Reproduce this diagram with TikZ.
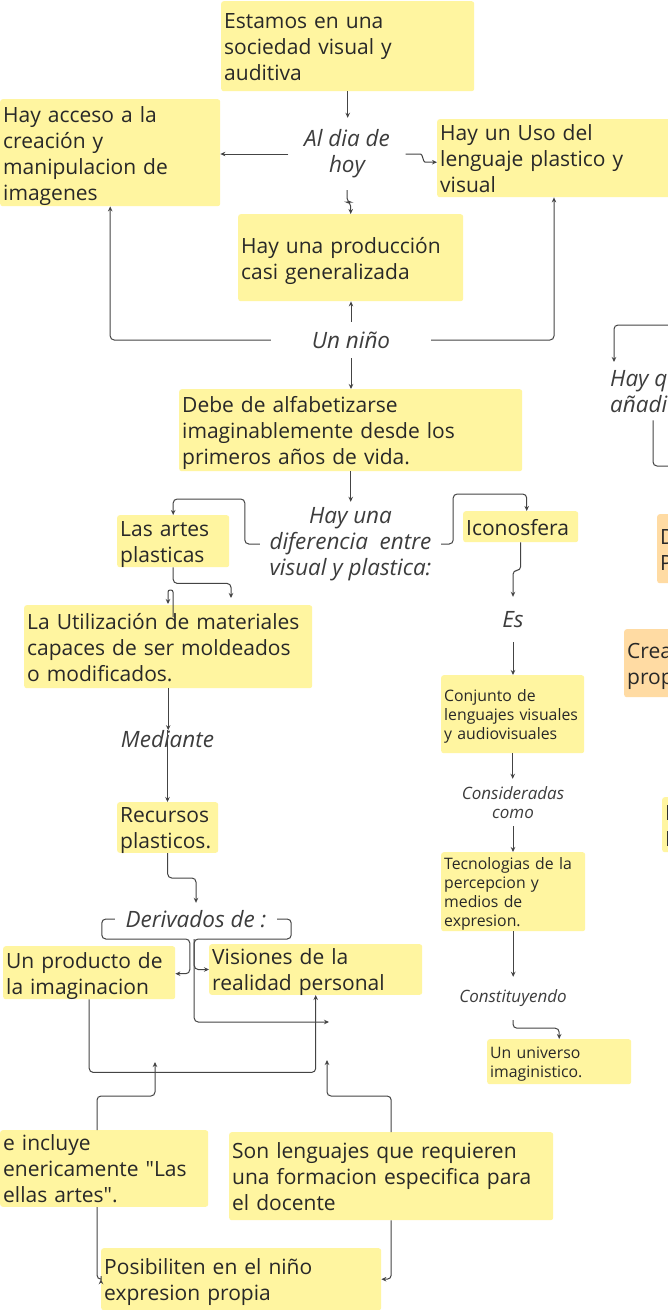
\documentclass[tikz,border=0pt]{standalone}
\usepackage{fontspec}
\setmainfont{Open Sans}
\usetikzlibrary{arrows.meta,calc}
\definecolor{notey}{RGB}{255,245,160}
\definecolor{noteo}{RGB}{255,219,163}
\definecolor{ink}{RGB}{40,40,40}
\definecolor{wirec}{RGB}{68,68,68}
\newcommand\notefont{\fontsize{21}{26}\selectfont}
\newcommand\smallnote{\fontsize{15.8}{19}\selectfont}
\newcommand\tagfont{\itshape\fontsize{22.5}{26}\selectfont}
\newcommand\smalltag{\itshape\fontsize{17}{19}\selectfont}
\tikzset{
  note/.style={fill=notey, rounded corners=2.5pt, anchor=north west, align=left,
    inner xsep=3pt, inner ysep=0pt, text=ink, font=\notefont},
  % width, height, lines
  size/.code n args={3}{\pgfmathsetmacro\notew{#1-6}%
    \pgfmathsetmacro\noted{26*(#3-1)+4}%
    \pgfkeysalso{minimum width=#1pt, minimum height=#2pt, text width=\notew pt,
      text height=20.6pt, text depth=\noted pt}},
  ssize/.code n args={3}{\pgfmathsetmacro\notew{#1-6}%
    \pgfmathsetmacro\noted{19*(#3-1)+3}%
    \pgfkeysalso{minimum width=#1pt, minimum height=#2pt, text width=\notew pt,
      text height=15.2pt, text depth=\noted pt, font=\smallnote}},
  tag/.style={inner sep=0pt, align=center, text=ink!90, font=\tagfont},
  wire/.style={draw=wirec, line width=1pt, rounded corners=4pt,
    -{Stealth[length=5pt,width=4.5pt]}},
}

\begin{document}
\begin{tikzpicture}[x=1pt,y=-1pt]
	%%%%% FRAME %%%%%
	\useasboundingbox (0,0) rectangle (668,1310);
	\fill[white] (0,0) rectangle (668,1310);
	\clip (0,0) rectangle (668,1310);
	
	%%%%% NOTES %%%%%
	\node[note, size={253}{90}{3}] (estamos) at (221,1) {Estamos en una\\sociedad visual y\\auditiva};
	\node[note, size={220}{107}{4}] (acceso) at (0,99) {Hay acceso a la\\creación y\\manipulacion de\\imagenes};
	\node[note, size={260}{78}{3}] (uso) at (437,119) {Hay un Uso del\\lenguaje plastico y\\visual};
	\node[note, size={225}{87}{2}] (produccion) at (238,214) {Hay una producción\\casi generalizada};
	\node[note, size={343}{82}{3}] (alfab) at (179,389) {Debe de alfabetizarse\\imaginablemente desde los\\primeros años de vida.};
	\node[note, size={112}{52}{2}] (artes) at (117,515) {Las artes\\plasticas};
	\node[note, size={115}{31}{1}] (icono) at (463,511) {Iconosfera};
	\node[note, size={288}{83}{3}] (utiliz) at (24,605) {La Utilización de materiales\\capaces de ser moldeados\\o modificados.};
	\node[note, size={101}{50}{2}] (recursos) at (117,802) {Recursos\\plasticos.};
	\node[note, ssize={143}{78}{3}] (conjunto) at (441,675) {Conjunto de\\lenguajes visuales\\y audiovisuales};
	\node[note, ssize={144}{79}{4}] (tecno) at (441,852) {Tecnologias de la\\percepcion y\\medios de\\expresion.};
	\node[note, ssize={144}{45}{2}] (universo) at (487,1039) {Un universo\\imaginistico.};
	\node[note, size={172}{53}{2}] (producto) at (3,946) {Un producto de\\la imaginacion};
	\node[note, size={213}{50}{2}] (visiones) at (209,944) {Visiones de la\\realidad personal};
	\node[note, size={208}{73}{3}, inner xsep=1pt] (incluye) at (0,1130) {e incluye\\enericamente \textquotedbl Las\\ellas artes\textquotedbl.};
	\node[note, size={324}{88}{3}] (lenguajes) at (229,1132) {Son lenguajes que requieren\\una formacion especifica para\\el docente};
	\node[note, size={280}{62}{2}] (posib) at (101,1248) {Posibiliten en el niño\\expresion propia};
	\node[note, fill=noteo, size={30}{69}{2}] (dp) at (657,514) {D\\P};
	\node[note, fill=noteo, size={60}{68}{2}] (crea) at (624,629) {Crea\\prop};
	\node[note, size={30}{55}{2}] (nl) at (662,797) {N\\I};
	
	%%%%% LINK WORDS %%%%%
	\node[tag, minimum width=117, minimum height=72] (aldia) at (347,154) {Al dia de\\hoy};
	\node[tag, minimum width=160, minimum height=36] (nino) at (351,340) {Un niño};
	\node[tag, minimum width=181, minimum height=84] (dif) at (350.5,544) {Hay una\\diferencia\ \ entre\\visual y plastica:};
	\node[tag, minimum width=30, minimum height=45] (es) at (513,619.5) {Es};
	\node[tag, font=\smalltag, minimum width=30, minimum height=47] (consid) at (513,802.5) {Consideradas\\como};
	\node[tag, font=\smalltag, minimum height=43] (constit) at (513,998.5) {Constituyendo};
	\node[tag, minimum height=16] (mediante) at (167.5,739) {Mediante};
	\node[tag, minimum width=162, minimum height=32] (deriv) at (196,919) {Derivados de :};
	\node[tag, anchor=north west, align=left, minimum height=58] (hayq) at (610,362) {Hay q\\añadi};
	
	\coordinate (dend) at (329,1022);
	\coordinate (iend) at (155,1062);
	\coordinate (lend) at (327,1060);
	\coordinate (offr1) at (680,325);
	\coordinate (offr2) at (680,466);
	
	%%%%% LINKS %%%%%
	\draw[wire] (estamos.south) -- (estamos.south |- aldia.north);
	\draw[wire] (aldia.west) -- (aldia.west -| acceso.east);
	\draw[wire] (aldia.east) -- ++(11,0) .. controls +(6,0) and +(-6,0) .. ($(uso.west)+(-8,4)$) -- ($(uso.west)+(0,4)$);
	\draw[wire] (aldia.south) -- ++(0,12) -| (produccion.north);
	\draw[wire] (nino.north) -- (nino.north |- produccion.south);
	\draw[wire] (nino.west) -| (acceso.south);
	\draw[wire] (nino.east) -| ($(uso.south west)+(117,0)$);
	\draw[wire] (nino.south) -- (nino.south |- alfab.north);
	\draw[wire] (alfab.south) -- (alfab.south |- dif.north);
	\draw[wire] (dif.west) -- ++(-15,0) |- ($(artes.north)+(0,-16)$) -- (artes.north);
	\draw[wire] (dif.east) -- ++(12,0) |- ($(icono.north)+(6,-17)$) -- ($(icono.north)+(6,0)$);
	\draw[wire] (icono.south) -- ++(0,28) -| (es.north);
	\draw[wire] (es.south) -- (es.south |- conjunto.north);
	\draw[wire] (conjunto.south) -- (conjunto.south |- consid.north);
	\draw[wire] (consid.south) -- (consid.south |- tecno.north);
	\draw[wire] (tecno.south) -- (tecno.south |- constit.north);
	\draw[wire] (constit.south) -- ++(0,8) -| (universo.north);
	\draw[wire] (artes.south) -- ++(0,16) -| ($(utiliz.north west)+(207,-7)$);
	\draw[wire, rounded corners=2pt] ($(utiliz.north west)+(149,12)$) -- ++(0,-27) -- ++(-5,0) -- ($(utiliz.north west)+(144,-1)$);
	\draw[wire] (utiliz.south) -- (utiliz.south |- mediante.north);
	\draw[wire] (mediante.north) -- (mediante.north |- recursos.north);
	\draw[wire] (recursos.south) -- ++(0,25) -| (deriv.north);
	\draw[wire] (deriv.west) -- ++(-13,0) -- ++(0,20) -- ++(88,0) |- ($(producto.east)+(0,1)$);
	\draw[wire] (deriv.east) -- ++(14,0) -- ++(0,20) -- ++(-97,0) |- (visiones.west);
	\draw[wire] ($(deriv.east)+(-83,20)$) |- (dend);
	\draw[wire] (producto.south) -- ++(0,73) -| (visiones.south);
	\draw[wire] ($(incluye.north west)+(97,0)$) -- ++(0,-34) -| (iend);
	\draw[wire] (lenguajes.north) -- ++(0,-36) -| (lend);
	\draw[wire] ($(incluye.south west)+(97,0)$) |- (posib.west);
	\draw[wire] (lenguajes.south) |- (posib.east);
	\draw[wire] (offr1) -| ($(hayq.north west)+(4,0)$);
	\draw[wire, -] ($(hayq.south west)+(43,0)$) |- (offr2);
\end{tikzpicture}
\end{document}
